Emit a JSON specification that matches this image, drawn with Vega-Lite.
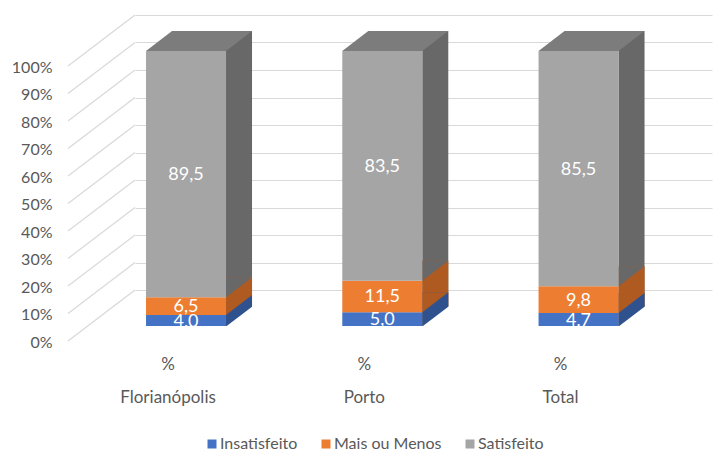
{
  "$schema": "https://vega.github.io/schema/vega-lite/v6.json",
  "width": 577,
  "height": 275,
  "autosize": {"type": "none"},
  "padding": {"left": 135, "top": 15, "right": 4, "bottom": 160},
  "background": "white",
  "config": {
    "view": {"stroke": null},
    "font": "Lato",
    "locale": {"number": {"decimal": ",", "thousands": ".", "grouping": [3], "currency": ["R$", ""]}},
    "axisY": {
      "title": null,
      "domain": false,
      "ticks": false,
      "tickCount": 11,
      "labelExpr": "datum.value + '%'",
      "labelOffset": 52,
      "labelPadding": 83,
      "labelFont": "Lato",
      "labelFontSize": 16,
      "labelColor": "#595959",
      "labelOverlap": false,
      "labelFlush": false,
      "labelBound": false,
      "grid": true,
      "gridColor": "#D9D9D9",
      "gridWidth": 1.2
    }
  },
  "data": {
    "values": [
      {"city": "Florianópolis", "cat": "Insatisfeito", "value": 4.0},
      {"city": "Florianópolis", "cat": "Mais ou Menos", "value": 6.5},
      {"city": "Florianópolis", "cat": "Satisfeito", "value": 89.5},
      {"city": "Porto", "cat": "Insatisfeito", "value": 5.0},
      {"city": "Porto", "cat": "Mais ou Menos", "value": 11.5},
      {"city": "Porto", "cat": "Satisfeito", "value": 83.5},
      {"city": "Total", "cat": "Insatisfeito", "value": 4.7},
      {"city": "Total", "cat": "Mais ou Menos", "value": 9.8},
      {"city": "Total", "cat": "Satisfeito", "value": 85.5}
    ]
  },
  "transform": [
    {"stack": "value", "groupby": ["city"], "sort": [{"field": "cat", "order": "ascending"}], "as": ["v0", "v1"]}
  ],
  "encoding": {
    "x": {
      "field": "city",
      "type": "nominal",
      "sort": null,
      "scale": {"paddingInner": 0.48, "paddingOuter": 0.21, "align": 0},
      "axis": {
        "title": null,
        "domain": false,
        "ticks": false,
        "grid": false,
        "labelAngle": 0,
        "labelOffset": -18,
        "labelPadding": 66,
        "labelExpr": "['%', datum.label]",
        "labelLineHeight": 33,
        "labelFont": "Lato",
        "labelFontSize": 17,
        "labelColor": "#595959"
      }
    }
  },
  "layer": [
    {
      "data": {"values": [{"t": 0}, {"t": 10}, {"t": 20}, {"t": 30}, {"t": 40}, {"t": 50}, {"t": 60}, {"t": 70}, {"t": 80}, {"t": 90}, {"t": 100}]},
      "mark": {"type": "rule", "color": "#D9D9D9", "strokeWidth": 1.2, "y2Offset": 51},
      "encoding": {
        "x": {"value": 0},
        "x2": {"value": -67},
        "y": {
          "field": "t",
          "type": "quantitative",
          "scale": {"domain": [0, 100], "nice": false},
          "axis": {"values": [0, 10, 20, 30, 40, 50, 60, 70, 80, 90, 100], "tickCount": 11}
        },
        "y2": {"field": "t"}
      }
    },
    {
      "transform": [{"filter": "datum.cat === 'Satisfeito'"}],
      "mark": {"type": "bar", "width": 26, "xOffset": 53, "yOffset": 16, "y2Offset": 36, "color": "#686868"},
      "encoding": {
        "y": {"field": "v1", "type": "quantitative", "stack": null},
        "y2": {"datum": 0}
      }
    },
    {
      "transform": [{"filter": "datum.cat === 'Mais ou Menos'"}],
      "mark": {"type": "bar", "width": 26, "xOffset": 53, "yOffset": 16, "y2Offset": 36, "color": "#AE5A21"},
      "encoding": {
        "y": {"field": "v1", "type": "quantitative", "stack": null},
        "y2": {"datum": 0}
      }
    },
    {
      "transform": [{"filter": "datum.cat === 'Insatisfeito'"}],
      "mark": {"type": "bar", "width": 26, "xOffset": 53, "yOffset": 16, "y2Offset": 36, "color": "#2F528F"},
      "encoding": {
        "y": {"field": "v1", "type": "quantitative", "stack": null},
        "y2": {"datum": 0}
      }
    },
    {
      "transform": [{"filter": "datum.cat === 'Mais ou Menos'"}],
      "mark": {"type": "point", "filled": true, "opacity": 1, "size": 4, "strokeWidth": 0, "yOffset": 36, "color": "#AE5A21", "shape": "M 40 0 L 40 -20 L 66 -20 Z"},
      "encoding": {
        "y": {"field": "v0", "type": "quantitative"}
      }
    },
    {
      "transform": [{"filter": "datum.cat === 'Satisfeito'"}],
      "mark": {"type": "point", "filled": true, "opacity": 1, "size": 4, "strokeWidth": 0, "yOffset": 36, "color": "#686868", "shape": "M 40 0 L 40 -20 L 66 -20 Z"},
      "encoding": {
        "y": {"field": "v0", "type": "quantitative"}
      }
    },
    {
      "transform": [{"filter": "datum.cat === 'Insatisfeito'"}],
      "mark": {"type": "point", "filled": true, "opacity": 1, "size": 4, "strokeWidth": 0, "yOffset": 36, "color": "white", "shape": "M 40 0.5 L 67 0.5 L 67 -20 Z"},
      "encoding": {
        "y": {"datum": 0, "type": "quantitative"}
      }
    },
    {
      "mark": {"type": "bar", "width": 80, "yOffset": 36, "y2Offset": 36},
      "encoding": {
        "y": {"field": "v1", "type": "quantitative", "stack": null},
        "y2": {"field": "v0"},
        "color": {
          "field": "cat",
          "type": "nominal",
          "scale": {"domain": ["Insatisfeito", "Mais ou Menos", "Satisfeito"], "range": ["#4472C4", "#ED7D31", "#A5A5A5"]},
          "legend": {
            "orient": "none",
            "legendX": 69,
            "legendY": 421,
            "direction": "horizontal",
            "title": null,
            "symbolType": "square",
            "symbolSize": 81,
            "symbolStrokeWidth": 0,
            "labelFont": "Lato",
            "labelFontSize": 16,
            "labelColor": "#595959",
            "labelOffset": 0,
            "columnPadding": 20
          }
        }
      }
    },
    {
      "transform": [{"filter": "datum.cat === 'Satisfeito'"}],
      "mark": {"type": "point", "filled": true, "opacity": 1, "size": 4, "strokeWidth": 0, "yOffset": 36, "color": "#7C7C7C", "shape": "M -40 0 L 40 0 L 66 -20 L -14 -20 Z"},
      "encoding": {
        "y": {"datum": 100, "type": "quantitative"}
      }
    },
    {
      "mark": {"type": "text", "color": "white", "fontSize": 18, "font": "Lato", "yOffset": 37, "baseline": "middle", "align": "center"},
      "encoding": {
        "y": {"field": "value", "type": "quantitative", "stack": "zero", "bandPosition": 0.5},
        "detail": {"field": "cat"},
        "order": {"field": "cat", "sort": "ascending"},
        "text": {"field": "value", "type": "quantitative", "format": ".1f"}
      }
    }
  ],
  "resolve": {"scale": {"y": "shared"}}
}
